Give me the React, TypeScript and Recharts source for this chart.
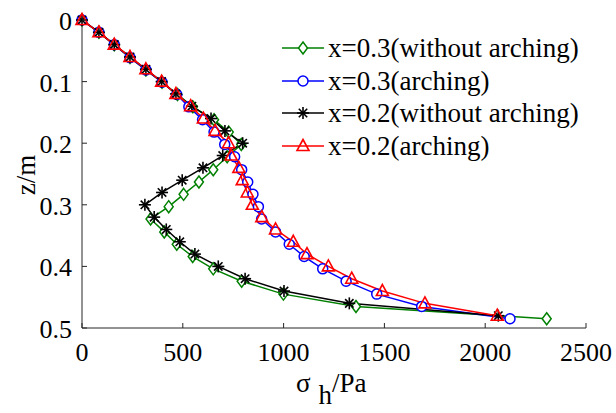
import { LineChart, Line, XAxis, YAxis } from 'recharts';

const X_TICKS = [0, 500, 1000, 1500, 2000, 2500];
const Z_TICKS = [0, 0.1, 0.2, 0.3, 0.4, 0.5];

// depth levels (x=0.3 curves use a slightly longer wall)
const Z_03 = [
  0, 0.02, 0.04, 0.061, 0.081, 0.101, 0.121, 0.141, 0.162, 0.182, 0.202, 0.222, 0.243,
  0.263, 0.283, 0.303, 0.323, 0.344, 0.364, 0.384, 0.404, 0.424, 0.445, 0.465, 0.485,
];
const Z_02 = [
  0, 0.02, 0.04, 0.06, 0.08, 0.1, 0.12, 0.14, 0.16, 0.18, 0.2, 0.22, 0.24, 0.26, 0.28,
  0.3, 0.32, 0.34, 0.36, 0.38, 0.4, 0.42, 0.44, 0.46, 0.48,
];

const X03_NO = [
  0, 84, 160, 238, 317, 397, 474, 550, 655, 728, 790, 720, 651, 580, 504, 430, 340, 408,
  470, 549, 651, 792, 999, 1359, 2305,
];
const X03_ARCH = [
  0, 84, 160, 238, 317, 397, 470, 530, 598, 655, 708, 757, 792, 822, 848, 875, 891, 960,
  1028, 1102, 1194, 1310, 1462, 1685, 2123,
];
const X02_NO = [
  0, 84, 160, 238, 317, 395, 466, 545, 640, 709, 797, 698, 600, 497, 397, 312, 358, 418,
  485, 560, 676, 809, 1002, 1326, 2065,
];
const X02_ARCH = [
  0, 84, 160, 238, 317, 395, 466, 539, 602, 660, 727, 740, 778, 795, 820, 845, 892, 960,
  1048, 1116, 1222, 1338, 1490, 1701, 2060,
];

const LABELS = [
  'x=0.3(without arching)',
  'x=0.3(arching)',
  'x=0.2(without arching)',
  'x=0.2(arching)',
];

const toRows = (xs: number[], zs: number[]) => xs.map((x, i) => ({ x, z: zs[i] }));

const FONT = 'Liberation Serif, DejaVu Serif, serif';
const AXIS = '#262626';
const PLOT_LEFT = 82;
const PLOT_BOTTOM = 328;

function Marker({ kind, cx, cy, color }: { kind: string; cx: number; cy: number; color: string }) {
  if (kind === 'diamond') {
    return (
      <path
        d={`M${cx},${cy - 6} L${cx + 4.5},${cy} L${cx},${cy + 6} L${cx - 4.5},${cy} Z`}
        fill="#fff"
        stroke={color}
        strokeWidth={1.5}
      />
    );
  }
  if (kind === 'circle') {
    return <circle cx={cx} cy={cy} r={5} fill="#fff" stroke={color} strokeWidth={1.5} />;
  }
  if (kind === 'star') {
    const r = 6;
    return (
      <g stroke={color} strokeWidth={1.6}>
        <line x1={cx - r} y1={cy} x2={cx + r} y2={cy} />
        <line x1={cx} y1={cy - r} x2={cx} y2={cy + r} />
        <line x1={cx - r * 0.7} y1={cy - r * 0.7} x2={cx + r * 0.7} y2={cy + r * 0.7} />
        <line x1={cx - r * 0.7} y1={cy + r * 0.7} x2={cx + r * 0.7} y2={cy - r * 0.7} />
      </g>
    );
  }
  return (
    <path
      d={`M${cx},${cy - 6.5} L${cx + 6},${cy + 4.5} L${cx - 6},${cy + 4.5} Z`}
      fill="none"
      stroke={color}
      strokeWidth={1.6}
    />
  );
}

const SERIES = [
  { key: 'g', data: toRows(X03_NO, Z_03), color: '#008000', kind: 'diamond', label: LABELS[0] },
  { key: 'b', data: toRows(X03_ARCH, Z_03), color: '#0000FF', kind: 'circle', label: LABELS[1] },
  { key: 'k', data: toRows(X02_NO, Z_02), color: '#000000', kind: 'star', label: LABELS[2] },
  { key: 'r', data: toRows(X02_ARCH, Z_02), color: '#FF0000', kind: 'triangle', label: LABELS[3] },
];

function XTick({ x, payload }: any) {
  return (
    <g>
      <line x1={x} x2={x} y1={PLOT_BOTTOM} y2={PLOT_BOTTOM - 5} stroke={AXIS} />
      <text x={x} y={361} textAnchor="middle" fontFamily={FONT} fontSize={26} fill="#000">
        {payload.value}
      </text>
    </g>
  );
}

function YTick({ y, payload }: any) {
  return (
    <g>
      <line x1={PLOT_LEFT} x2={PLOT_LEFT + 5} y1={y} y2={y} stroke={AXIS} />
      <text x={72} y={y + 10} textAnchor="end" fontFamily={FONT} fontSize={26} fill="#000">
        {payload.value}
      </text>
    </g>
  );
}

function LegendBox() {
  return (
    <div
      style={{
        position: 'absolute',
        left: 280,
        top: 32,
        fontFamily: FONT,
        fontSize: 27,
        lineHeight: '32.5px',
        color: '#000',
      }}
    >
      {SERIES.map((s) => (
        <div key={s.key} style={{ display: 'flex', alignItems: 'center', whiteSpace: 'nowrap' }}>
          <svg width={48} height={32} style={{ flex: 'none' }}>
            <line x1={2} x2={44} y1={16} y2={16} stroke={s.color} strokeWidth={1.5} />
            <Marker kind={s.kind} cx={23} cy={16} color={s.color} />
          </svg>
          <span>{s.label}</span>
        </div>
      ))}
    </div>
  );
}

export default function App() {
  return (
    <div style={{ width: 616, height: 413, background: '#fff', position: 'relative' }}>
      <style>{`body{margin:0}`}</style>
      <LineChart
        width={616}
        height={413}
        margin={{ top: 20, right: 30, left: 22, bottom: 25 }}
      >
        <XAxis
          type="number"
          dataKey="x"
          domain={[0, 2500]}
          ticks={X_TICKS}
          height={60}
          tickLine={false}
          stroke={AXIS}
          tick={<XTick />}
          interval={0}
        />
        <YAxis
          type="number"
          dataKey="z"
          domain={[0, 0.5]}
          ticks={Z_TICKS}
          reversed
          width={60}
          tickLine={false}
          stroke={AXIS}
          tick={<YTick />}
          interval={0}
        />
        {SERIES.map((s) => (
          <Line
            key={s.key}
            data={s.data}
            dataKey="z"
            type="linear"
            stroke={s.color}
            strokeWidth={1.5}
            isAnimationActive={false}
            dot={(p: any) => (
              <Marker key={`${s.key}-${p.index}`} kind={s.kind} cx={p.cx} cy={p.cy} color={s.color} />
            )}
            activeDot={false}
          />
        ))}
      </LineChart>
      <LegendBox />
      <div
        style={{
          position: 'absolute',
          left: 26,
          top: 175,
          transform: 'translate(-50%, -50%) rotate(-90deg)',
          fontFamily: FONT,
          fontSize: 27,
          whiteSpace: 'nowrap',
        }}
      >
        z/m
      </div>
      <div
        style={{
          position: 'absolute',
          left: 296,
          top: 368,
          fontFamily: FONT,
          fontSize: 27,
          whiteSpace: 'nowrap',
        }}
      >
        σ<sub style={{ fontSize: 27, verticalAlign: '-0.45em', marginLeft: 8 }}>h</sub>/Pa
      </div>
    </div>
  );
}
